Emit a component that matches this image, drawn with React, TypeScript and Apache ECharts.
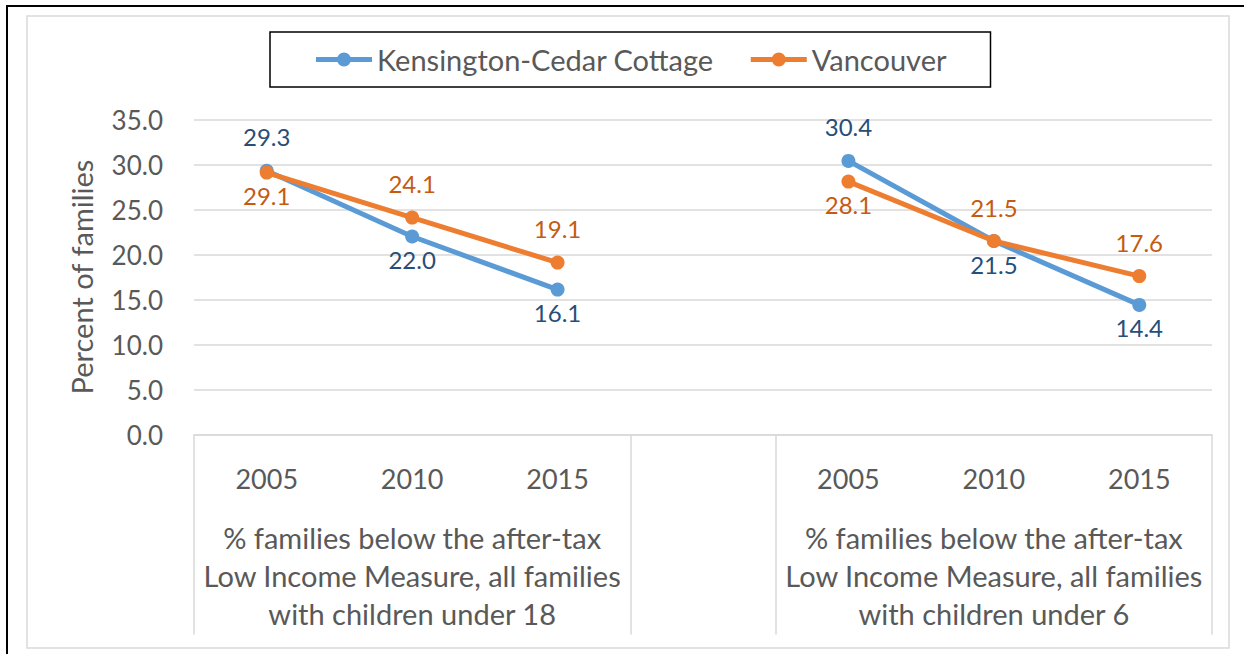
import React, { useEffect, useRef } from 'react';
import * as echarts from 'echarts';

const categories = ['2005', '2010', '2015', '', '2005', '2010', '2015'];
const groupLabels = [
  '% families below the after-tax\nLow Income Measure, all families\nwith children under 18',
  '% families below the after-tax\nLow Income Measure, all families\nwith children under 6',
];
const groupRanges: [number, number][] = [[0, 3], [4, 7]];
const seriesNames = ['Kensington-Cedar Cottage', 'Vancouver'];
const kccValues = [29.3, 22.0, 16.1, null, 30.4, 21.5, 14.4];
const vanValues = [29.1, 24.1, 19.1, null, 28.1, 21.5, 17.6];
const kccLabelSide = ['top', 'bottom', 'bottom', null, 'top', 'bottom', 'bottom'];
const vanLabelSide = ['bottom', 'top', 'top', null, 'bottom', 'top', 'top'];
const yMin = 0;
const yMax = 35;
const yStep = 5;

const FONT = 'Lato';
const GRAY_TEXT = '#595959';
const GRID_COLOR = '#d9d9d9';
const LEGEND_ICON =
  'path://M0,4.5L56,4.5L56,9.5L0,9.5Z M21,7a7,7 0 1,1 14,0a7,7 0 1,1 -14,0Z';

function buildData(values: (number | null)[], sides: (string | null)[]) {
  return values.map((v, i) => {
    const side = sides[i] || 'top';
    return {
      value: v,
      label: { position: side, distance: side === 'top' ? 15 : 4 },
    };
  });
}

export default function App() {
  const ref = useRef<HTMLDivElement>(null);
  useEffect(() => {
    if (!ref.current) return;
    const chart = echarts.init(ref.current, undefined, { renderer: 'svg' });
    const boundaries = Array.from(new Set(groupRanges.flat()));
    const centers = groupRanges.map(([a, b]) => (a + b) / 2);
    const option: any = {
      animation: false,
      backgroundColor: '#ffffff',
      textStyle: { fontFamily: FONT },
      graphic: [
        {
          type: 'rect',
          shape: { x: 7, y: 6, width: 1400, height: 800 },
          style: { fill: 'none', stroke: '#000000', lineWidth: 2 },
          silent: true,
        },
        {
          type: 'rect',
          shape: { x: 27, y: 16, width: 1202, height: 632 },
          style: { fill: 'none', stroke: GRID_COLOR, lineWidth: 1.5 },
          silent: true,
        },
      ],
      legend: {
        left: 270,
        top: 32,
        data: seriesNames.map((n) => ({ name: n, icon: LEGEND_ICON })),
        borderColor: '#000000',
        borderWidth: 1.5,
        padding: [13, 44, 13, 46],
        itemWidth: 56,
        itemHeight: 14,
        itemGap: 37,
        textStyle: { fontSize: 29, color: GRAY_TEXT, fontFamily: FONT },
      },
      grid: { left: 194, right: 32, top: 119.5, bottom: 219.5 },
      xAxis: [
        {
          type: 'category',
          data: categories,
          boundaryGap: true,
          axisLine: { show: true, lineStyle: { color: GRID_COLOR, width: 1.5 } },
          axisTick: { show: false },
          axisLabel: { fontSize: 27, color: GRAY_TEXT, margin: 30, interval: 0, fontFamily: FONT },
        },
        {
          type: 'value',
          position: 'bottom',
          min: 0,
          max: categories.length,
          axisLine: { show: false },
          splitLine: { show: false },
          axisTick: {
            show: true,
            customValues: boundaries,
            length: 200,
            lineStyle: { color: GRID_COLOR, width: 1.5 },
          },
          axisLabel: {
            show: true,
            customValues: centers,
            margin: 84,
            fontSize: 29,
            lineHeight: 38,
            color: GRAY_TEXT,
            fontFamily: FONT,
            align: 'center',
            formatter: (v: number) => {
              const idx = centers.findIndex((c) => Math.abs(c - v) < 1e-6);
              return idx >= 0 ? groupLabels[idx] : '';
            },
          },
        },
      ],
      yAxis: {
        type: 'value',
        min: yMin,
        max: yMax,
        interval: yStep,
        name: 'Percent of families',
        nameLocation: 'middle',
        nameGap: 98,
        nameTextStyle: { fontSize: 29, color: GRAY_TEXT, fontFamily: FONT },
        axisLine: { show: false },
        axisTick: { show: false },
        axisLabel: {
          fontSize: 26,
          color: GRAY_TEXT,
          margin: 31,
          fontFamily: FONT,
          formatter: (v: number) => v.toFixed(1),
        },
        splitLine: { lineStyle: { color: GRID_COLOR, width: 1.5 } },
      },
      series: [
        {
          name: seriesNames[0],
          type: 'line',
          xAxisIndex: 0,
          data: buildData(kccValues, kccLabelSide),
          symbol: 'circle',
          symbolSize: 14,
          connectNulls: false,
          lineStyle: { color: '#5b9bd5', width: 5 },
          itemStyle: { color: '#5b9bd5' },
          label: {
            show: true,
            fontSize: 24,
            color: '#264e78',
            fontFamily: FONT,
            formatter: (p: any) => Number(p.value).toFixed(1),
          },
          z: 2,
        },
        {
          name: seriesNames[1],
          type: 'line',
          xAxisIndex: 0,
          data: buildData(vanValues, vanLabelSide),
          symbol: 'circle',
          symbolSize: 14,
          connectNulls: false,
          lineStyle: { color: '#ed7d31', width: 5 },
          itemStyle: { color: '#ed7d31' },
          label: {
            show: true,
            fontSize: 24,
            color: '#c55a11',
            fontFamily: FONT,
            formatter: (p: any) => Number(p.value).toFixed(1),
          },
          z: 3,
        },
      ],
    };
    chart.setOption(option);
    return () => chart.dispose();
  }, []);
  return (
    <div
      ref={ref}
      style={{ position: 'fixed', left: 0, top: 0, width: 1244, height: 654, background: '#fff' }}
    />
  );
}
